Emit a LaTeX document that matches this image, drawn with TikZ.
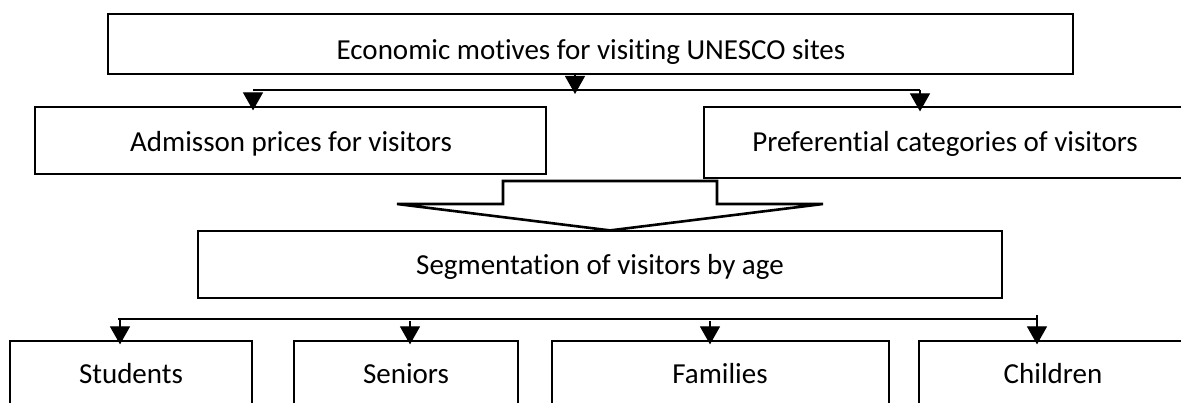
\documentclass[tikz,border=0pt]{standalone}
\usepackage{fontspec}
\setmainfont{Carlito}[Ligatures={NoCommon}]
\usetikzlibrary{arrows.meta}
\begin{document}
\begin{tikzpicture}[x=1pt,y=-1pt,
  box/.style={draw,line width=1.2pt,rectangle,inner sep=0pt},
  lbl/.style={anchor=base,inner sep=0pt,font=\fontsize{29}{34}\selectfont},
  arr/.style={line width=1.2pt,-{Triangle[width=20pt,length=18pt]}},
  conn/.style={line width=1.2pt}]
\useasboundingbox (0,0) rectangle (1181,403);
\clip (0,0) rectangle (1181,403);
\fill[white] (0,0) rectangle (1181,403);
% boxes
\node[box,minimum width=965pt,minimum height=60pt] (top) at (590.5,44) {};
\node[box,minimum width=511pt,minimum height=67pt] (adm) at (290.5,140.5) {};
\node[box,minimum width=486pt,minimum height=71pt] (pref) at (947,142.5) {};
\node[box,minimum width=804pt,minimum height=67pt] (seg) at (600,264.5) {};
\node[box,minimum width=242pt,minimum height=69pt] (stu) at (131,375.5) {};
\node[box,minimum width=224pt,minimum height=69pt] (sen) at (406,375.5) {};
\node[box,minimum width=337pt,minimum height=69pt] (fam) at (720.5,375.5) {};
\node[box,minimum width=271pt,minimum height=69pt] (chi) at (1054.5,375.5) {};
% texts
\node[lbl] (ttop) at (591,60) {Economic motives for visiting UNESCO sites};
\node[lbl] (tadm) at (291,152) {Admisson prices for visitors};
\node[lbl] (tpref) at (945,152) {Preferential categories of visitors};
\node[lbl] (tseg) at (600,275) {Segmentation of visitors by age};
\node[lbl] (tstu) at (131,384) {Students};
\node[lbl] (tsen) at (406,384) {Seniors};
\node[lbl] (tfam) at (720,384) {Families};
\node[lbl] (tchi) at (1053,384) {Children};
% upper connectors
\coordinate (j1) at (575,94);
\coordinate (bl) at (253,90);
\coordinate (br) at (920,90);
\draw[arr] (top.south -| j1) -- (j1);
\draw[conn] (bl) -- (br);
\draw[arr,shorten >=-4pt] ([yshift=-3pt]bl) -- (adm.north -| bl);
\draw[arr,shorten >=-5pt] (br) -- (pref.north -| br);
% big block arrow
\draw[line width=2.6pt,line join=miter]
  (503,181) -- (717,181) -- (717,204) -- (823,204) -- (seg.north -| 610,0)
  -- (397,204) -- (503,204) -- cycle;
% lower connectors
\coordinate (ll) at (118,319);
\coordinate (lr) at (1037,319);
\draw[conn] (ll) -- (lr);
\draw[arr,shorten >=-4pt] (ll -| 120,0) -- (stu.north -| 120,0);
\draw[arr,shorten >=-4pt] ([yshift=-2pt]ll -| 410,0) -- (sen.north -| 410,0);
\draw[arr,shorten >=-4pt] ([yshift=-2pt]ll -| 710,0) -- (fam.north -| 710,0);
\draw[arr,shorten >=-4pt] ([yshift=4pt]lr) -- (chi.north -| lr);
\end{tikzpicture}
\end{document}
